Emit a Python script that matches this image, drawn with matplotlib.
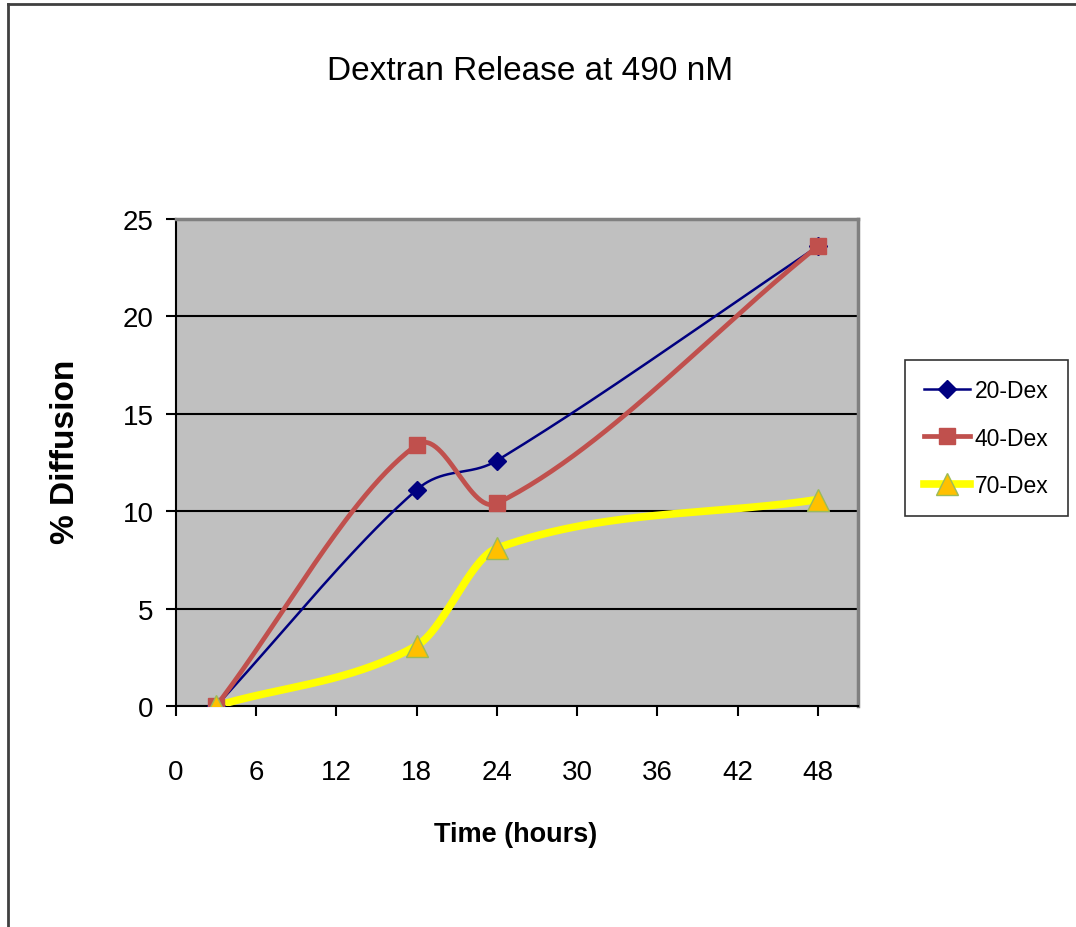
import numpy as np
import matplotlib
matplotlib.use("Agg")
import matplotlib.pyplot as plt
from matplotlib.lines import Line2D

# release data (hours vs % diffusion)
hours = [3, 18, 24, 48]
dex20 = [0, 11.1, 12.6, 23.6]
dex40 = [0, 13.4, 10.4, 23.6]
dex70 = [0, 3.1, 8.1, 10.6]
xticks = [0, 6, 12, 18, 24, 30, 36, 42, 48]
yticks = [0, 5, 10, 15, 20, 25]

FONT = ['Liberation Sans', 'DejaVu Sans']


def smooth(xs, ys, n=60):
    # bezier through the points with tangents scaled to the segment widths
    p = np.column_stack([xs, ys]).astype(float)
    m = len(p)
    tang = []
    for i in range(m):
        a = p[max(i - 1, 0)]
        b = p[min(i + 1, m - 1)]
        tang.append(b - a)
    out = []
    for i in range(m - 1):
        p1, p2 = p[i], p[i + 1]
        h = p2[0] - p1[0]
        hp = p1[0] - p[i - 1][0] if i > 0 else 0.0
        hn = p[i + 2][0] - p2[0] if i + 2 < m else 0.0
        c1 = p1 + tang[i] * h / (h + hp) / 3.0
        c2 = p2 - tang[i + 1] * h / (h + hn) / 3.0
        t = np.linspace(0, 1, n)[:, None]
        seg = ((1 - t) ** 3) * p1 + 3 * ((1 - t) ** 2) * t * c1 + 3 * (1 - t) * t ** 2 * c2 + t ** 3 * p2
        out.append(seg if i == 0 else seg[1:])
    seg = np.vstack(out)
    return seg[:, 0], seg[:, 1]


fig = plt.figure(figsize=(10.76, 9.28), dpi=100)
ax = fig.add_axes([176 / 1076, 1 - 707 / 928, (858 - 176) / 1076, (707 - 220) / 928])
ax.set_facecolor('#C0C0C0')

series = [
    ('20-Dex', dex20, '#000080', 1.8, 'D', 9, '#000080', '#000080'),
    ('40-Dex', dex40, '#C0504D', 3.4, 's', 11, '#C0504D', '#C0504D'),
    ('70-Dex', dex70, '#FFFF00', 5.5, '^', 16, '#FFC000', '#9BBB59'),
]
handles = []
for name, ys, col, lw, mk, ms, fc, ec in series:
    sx, sy = smooth(hours, ys)
    ax.plot(sx, sy, color=col, lw=lw, zorder=3, solid_capstyle='round')
    ax.plot(hours, ys, ls='none', marker=mk, ms=ms, mfc=fc, mec=ec, mew=1, zorder=4)
    handles.append(Line2D([], [], color=col, lw=lw, marker=mk, ms=ms, mfc=fc, mec=ec, mew=1))

ax.set_xlim(0, 51)
ax.set_ylim(0, 25)
ax.set_xticks(xticks)
ax.set_yticks(yticks)
ax.set_xticklabels([str(v) for v in xticks], family=FONT, fontsize=20)
ax.set_yticklabels([str(v) for v in yticks], family=FONT, fontsize=20)
ax.tick_params(axis='x', direction='out', length=7, width=1.5, pad=31)
ax.tick_params(axis='y', direction='out', length=7, width=1.5, pad=9)
ax.grid(axis='y', color='black', lw=1.5)
ax.set_axisbelow(True)

for s in ('left', 'bottom'):
    ax.spines[s].set_color('black')
    ax.spines[s].set_linewidth(1.5)
for s in ('top', 'right'):
    ax.spines[s].set_color('#808080')
    ax.spines[s].set_linewidth(2.5)

fig.text(530 / 1076, 1 - 72 / 928, 'Dextran Release at 490 nM', family=FONT,
         fontsize=24, ha='center', va='center')
fig.text(516 / 1076, 1 - 835 / 928, 'Time (hours)', family=FONT, fontsize=19.5,
         fontweight='bold', ha='center', va='center')
fig.text(65 / 1076, 1 - 452 / 928, '% Diffusion', family=FONT, fontsize=24,
         fontweight='bold', ha='center', va='center', rotation=90)

leg = fig.legend(handles, ['20-Dex', '40-Dex', '70-Dex'], loc='center left',
                 bbox_to_anchor=(905 / 1076, 1 - 439 / 928), bbox_transform=fig.transFigure,
                 prop={'family': FONT, 'size': 16.5}, frameon=True, fancybox=False,
                 handlelength=2.0, handletextpad=0.2, labelspacing=1.05, borderpad=0.85,
                 borderaxespad=0)
leg.get_frame().set_edgecolor('black')
leg.get_frame().set_linewidth(1.2)

# outer frame (top and left edges)
fig.add_artist(Line2D([8 / 1076, 1], [1 - 5 / 928, 1 - 5 / 928], transform=fig.transFigure,
                      color='#404040', lw=2))
fig.add_artist(Line2D([8 / 1076, 8 / 1076], [0, 1 - 5 / 928], transform=fig.transFigure,
                      color='#404040', lw=2))

fig.savefig('out.png', dpi=100, facecolor='white')
